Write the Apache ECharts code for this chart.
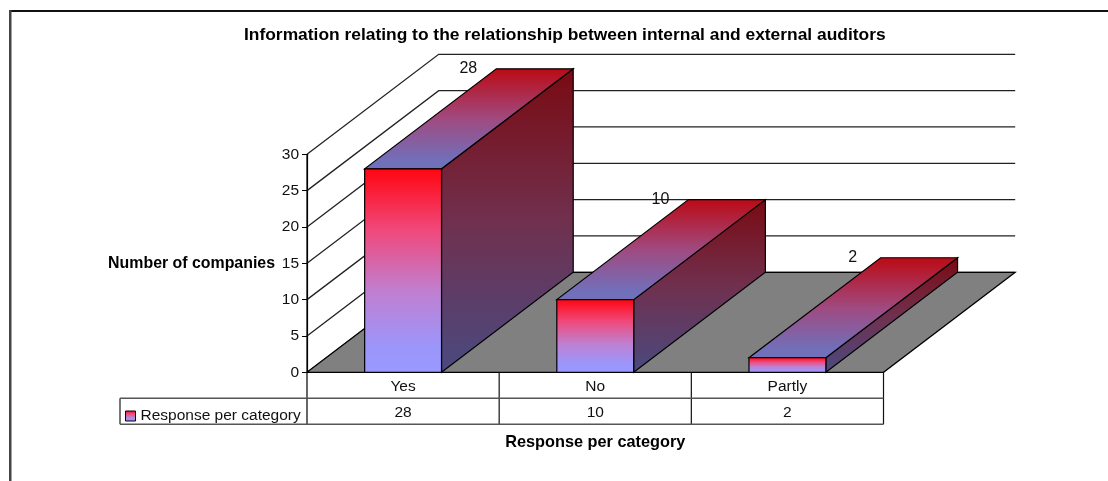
<!DOCTYPE html>
<html>
<head>
<meta charset="utf-8">
<style>html,body{margin:0;padding:0;background:#fff}#chart{width:1108px;height:481px}</style>
<script src="https://cdn.jsdelivr.net/npm/echarts@6/dist/echarts.min.js"></script>
</head>
<body>
<div id="chart"></div>
<script>
const categories = ['Yes', 'No', 'Partly'];
const responses = [28, 10, 2];
const gridValues = [0, 5, 10, 15, 20, 25, 30];
const seriesName = 'Response per category';
const chartTitle = 'Information relating to the relationship between internal and external auditors';
const yTitle = 'Number of companies';

// Oblique projection of the floor depth, and bar width as a share of its category band
const DEPTH_X = 131.7, DEPTH_Y = -100;
const BAR_SHARE = 0.4;
const ROW_H = 26;
const FONT = '"Liberation Sans", Arial, sans-serif';

const vGrad = (stops) => ({
  type: 'linear', x: 0, y: 0, x2: 0, y2: 1,
  colorStops: stops.map(([offset, color]) => ({ offset, color }))
});
const frontFill = vGrad([[0, '#ff0510'], [0.3, '#f0487a'], [0.6, '#c07fd0'], [0.88, '#9b96fc'], [1, '#9999ff']]);
const topFill = vGrad([[0, '#bb0a14'], [0.5, '#a04a80'], [0.92, '#7070bb'], [1, '#7070bc']]);
const sideFill = vGrad([[0, '#7a0a12'], [0.5, '#70304e'], [1, '#4a4a80']]);

const poly = (points, fill) => ({
  type: 'polygon',
  shape: { points },
  style: { fill, stroke: '#000', lineWidth: 1.2 }
});

function renderWall(params, api) {
  const left = params.coordSys.x;
  const y = api.coord([0, api.value(1)])[1];
  return {
    type: 'polyline',
    shape: { points: [[left, y], [left + DEPTH_X, y + DEPTH_Y], [left + params.coordSys.width + DEPTH_X, y + DEPTH_Y]] },
    style: { fill: 'none', stroke: '#222', lineWidth: 1.3 }
  };
}

function renderFloor(params) {
  const c = params.coordSys;
  const b = c.y + c.height, l = c.x, r = c.x + c.width;
  return poly([[l, b], [r, b], [r + DEPTH_X, b + DEPTH_Y], [l + DEPTH_X, b + DEPTH_Y]], '#808080');
}

function renderBar(params, api) {
  const [cx, top] = api.coord([api.value(0), api.value(1)]);
  const [, base] = api.coord([api.value(0), 0]);
  const w = api.size([1, 0])[0] * BAR_SHARE;
  const l = cx - w / 2, r = cx + w / 2;
  const dx = DEPTH_X, dy = DEPTH_Y;
  return {
    type: 'group',
    children: [
      poly([[r, base], [r + dx, base + dy], [r + dx, top + dy], [r, top]], sideFill),
      poly([[l, top], [r, top], [r + dx, top + dy], [l + dx, top + dy]], topFill),
      poly([[l, top], [r, top], [r, base], [l, base]], frontFill),
      {
        type: 'text', z2: 10,
        style: {
          x: l + dx - 28, y: top + dy, text: String(api.value(1)),
          fill: '#111', font: '16px ' + FONT, align: 'center', verticalAlign: 'middle'
        }
      }
    ]
  };
}

function renderTableGrid(params) {
  const c = params.coordSys;
  const b = c.y + c.height, l = c.x, band = c.width / categories.length;
  const line = (x1, y1, x2, y2, stroke, lineWidth) => ({
    type: 'line', shape: { x1, y1, x2, y2 }, style: { stroke, lineWidth }
  });
  const children = [];
  categories.forEach((_, i) => {
    children.push(line(l + band * (i + 1), b, l + band * (i + 1), b + ROW_H * 2, '#111', 1.2));
  });
  children.push(line(l, c.y, l, b + ROW_H * 2, '#000', 1.2));
  children.push(line(l - 187, b + ROW_H, l + c.width, b + ROW_H, '#555', 1.6));
  children.push(line(l - 187, b + ROW_H * 2, l + c.width, b + ROW_H * 2, '#555', 1.6));
  children.push(line(l - 187, b + ROW_H, l - 187, b + ROW_H * 2, '#555', 1.6));
  return { type: 'group', children };
}

function renderTableValue(params, api) {
  const [cx, base] = api.coord([api.value(0), 0]);
  return {
    type: 'text',
    style: {
      x: cx, y: base + ROW_H * 1.55, text: String(api.value(1)),
      fill: '#111', font: '15.5px ' + FONT, align: 'center', verticalAlign: 'middle'
    }
  };
}

const chart = echarts.init(document.getElementById('chart'), null, { renderer: 'canvas' });
chart.setOption({
  animation: false,
  backgroundColor: '#fff',
  title: {
    text: chartTitle, left: 244, top: 27, padding: 0,
    textStyle: { fontFamily: FONT, fontSize: 17.4, fontWeight: 'bold', color: '#000' }
  },
  legend: {
    left: 125, top: 408, padding: 0, itemWidth: 10, itemHeight: 10, selectedMode: false,
    data: [{ name: seriesName, icon: 'rect', itemStyle: { color: frontFill, borderColor: '#000', borderWidth: 1 } }],
    textStyle: { fontFamily: FONT, fontSize: 15.5, color: '#111' }
  },
  grid: { left: 307, top: 154.3, width: 576.5, height: 218 },
  xAxis: {
    type: 'category', data: categories,
    name: seriesName, nameLocation: 'middle', nameGap: 62,
    nameTextStyle: { fontFamily: FONT, fontSize: 16.3, fontWeight: 'bold', color: '#000' },
    axisLine: { lineStyle: { color: '#000', width: 1.2 } },
    axisTick: { show: false },
    axisLabel: { margin: 6, fontFamily: FONT, fontSize: 15.5, color: '#111' }
  },
  yAxis: {
    type: 'value', min: 0, max: 30, interval: 5,
    name: yTitle, nameLocation: 'middle', nameGap: 32, nameRotate: 0,
    nameTextStyle: { fontFamily: FONT, fontSize: 15.9, fontWeight: 'bold', color: '#000' },
    splitLine: { show: false },
    axisLine: { show: true, lineStyle: { color: '#000', width: 1.2 } },
    axisTick: { show: true, length: 5, lineStyle: { color: '#000' } },
    axisLabel: { margin: 8, fontFamily: FONT, fontSize: 15.5, color: '#111' }
  },
  graphic: [
    { type: 'rect', shape: { x: 9, y: 10, width: 1099, height: 2 }, style: { fill: '#111' }, silent: true },
    { type: 'rect', shape: { x: 9, y: 10, width: 2.5, height: 471 }, style: { fill: '#444' }, silent: true }
  ],
  series: [
    { type: 'custom', name: 'walls', z: 1, silent: true, renderItem: renderWall, data: gridValues.map(v => [0, v]) },
    { type: 'custom', name: 'floor', z: 2, silent: true, renderItem: renderFloor, data: [[0, 0]] },
    { type: 'custom', name: 'table', z: 3, silent: true, renderItem: renderTableGrid, data: [[0, 0]] },
    { type: 'custom', name: 'tableValues', z: 4, silent: true, renderItem: renderTableValue, data: responses.map((v, i) => [i, v]) },
    {
      type: 'custom', name: seriesName, z: 5, silent: true, renderItem: renderBar,
      itemStyle: { color: frontFill },
      data: responses.map((v, i) => [i, v])
    }
  ]
});
</script>
</body>
</html>
